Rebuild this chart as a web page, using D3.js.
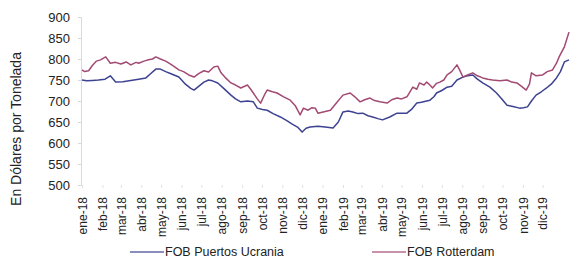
<!DOCTYPE html>
<html>
<head>
<meta charset="utf-8">
<script src="https://cdn.jsdelivr.net/npm/d3@7"></script>
<style>
  body { margin: 0; background: #fff; }
  svg text { font-family: "Liberation Sans", Arial, sans-serif; fill: #222; }
</style>
</head>
<body>
<div id="chart"></div>
<script>
// FOB Puertos Ucrania (USD/t)
const ucraniaDates = [
  '2018-01-01','2018-01-08','2018-01-17','2018-01-26','2018-02-05','2018-02-13','2018-02-21','2018-03-04',
  '2018-03-16','2018-03-28','2018-04-08','2018-04-15','2018-04-23','2018-04-30','2018-05-08','2018-05-16',
  '2018-05-28','2018-06-07','2018-06-15','2018-06-20','2018-06-27','2018-07-05','2018-07-12','2018-07-18',
  '2018-07-26','2018-08-04','2018-08-15','2018-08-22','2018-08-30','2018-09-09','2018-09-18','2018-09-24',
  '2018-10-02','2018-10-09','2018-10-18','2018-10-29','2018-11-09','2018-11-16','2018-11-24','2018-12-01',
  '2018-12-07','2018-12-13','2018-12-25','2019-01-05','2019-01-17','2019-01-25','2019-02-01','2019-02-09',
  '2019-02-16','2019-02-24','2019-03-03','2019-03-11','2019-03-18','2019-03-26','2019-04-02','2019-04-13',
  '2019-04-24','2019-05-01','2019-05-09','2019-05-16','2019-05-24','2019-05-31','2019-06-13','2019-06-19',
  '2019-06-23','2019-07-01','2019-07-09','2019-07-16','2019-07-24','2019-08-02','2019-08-09','2019-08-17',
  '2019-08-24','2019-09-01','2019-09-12','2019-09-22','2019-09-30','2019-10-08','2019-10-17','2019-10-27',
  '2019-11-02','2019-11-08','2019-11-14','2019-11-21','2019-11-29','2019-12-07','2019-12-14','2019-12-22',
  '2019-12-28','2020-01-03','2020-01-10'
];
const ucraniaValues = [
  750, 748, 749, 750, 752, 760, 745, 746,
  749, 752, 755, 765, 776, 776, 770, 765,
  757, 740, 730, 726, 735, 745, 750, 748,
  743, 730, 714, 705, 698, 700, 698, 683,
  680, 678, 670, 662, 652, 645, 638, 626,
  635, 638, 640, 638, 636, 650, 674, 676,
  674, 670, 671, 665, 662, 658, 655, 662,
  671, 671, 671, 680, 695, 697, 702, 710,
  719, 725, 733, 735, 750, 757, 760, 762,
  752, 743, 733, 719, 705, 690, 687, 683,
  684, 686, 700, 714, 722, 731, 740, 755,
  770, 793, 798
];

// FOB Rotterdam (USD/t)
const rotterdamDates = [
  '2018-01-01','2018-01-05','2018-01-11','2018-01-17','2018-01-23','2018-01-29','2018-02-06','2018-02-13',
  '2018-02-21','2018-03-01','2018-03-09','2018-03-16','2018-03-24','2018-03-28','2018-04-05','2018-04-12',
  '2018-04-18','2018-04-23','2018-04-30','2018-05-08','2018-05-13','2018-05-20','2018-05-28','2018-06-04',
  '2018-06-12','2018-06-20','2018-06-27','2018-07-05','2018-07-12','2018-07-20','2018-07-26','2018-07-31',
  '2018-08-07','2018-08-15','2018-08-22','2018-08-30','2018-09-09','2018-09-14','2018-09-18','2018-09-24',
  '2018-09-29','2018-10-05','2018-10-09','2018-10-17','2018-10-24','2018-11-03','2018-11-13','2018-11-21',
  '2018-11-28','2018-12-03','2018-12-10','2018-12-16','2018-12-21','2018-12-25','2019-01-02','2019-01-13',
  '2019-01-22','2019-02-01','2019-02-12','2019-02-19','2019-02-27','2019-03-06','2019-03-14','2019-03-21',
  '2019-03-29','2019-04-09','2019-04-16','2019-04-24','2019-05-01','2019-05-09','2019-05-13','2019-05-18',
  '2019-05-24','2019-05-28','2019-06-04','2019-06-08','2019-06-13','2019-06-17','2019-06-23','2019-06-28',
  '2019-07-04','2019-07-09','2019-07-16','2019-07-24','2019-07-28','2019-08-02','2019-08-09','2019-08-17',
  '2019-08-24','2019-09-01','2019-09-09','2019-09-16','2019-09-27','2019-10-08','2019-10-15','2019-10-23',
  '2019-10-30','2019-11-06','2019-11-11','2019-11-14','2019-11-21','2019-12-01','2019-12-08','2019-12-16',
  '2019-12-22','2019-12-26','2020-01-03','2020-01-10'
];
const rotterdamValues = [
  774, 770, 772, 785, 795, 798, 805, 790,
  792, 788, 793, 786, 792, 790, 795, 798,
  800, 805, 800, 795, 790, 783, 774, 770,
  762, 757, 765, 772, 769, 781, 783, 767,
  755, 743, 738, 731, 738, 728, 719, 705,
  695, 715, 726, 722, 719, 710, 702, 688,
  667, 683, 678, 684, 683, 671, 674, 678,
  695, 714, 719, 710, 698, 703, 707, 701,
  698, 695, 703, 707, 705, 710, 720, 733,
  728, 743, 738, 745, 738, 731, 742, 745,
  750, 762, 770, 786, 774, 757, 762, 767,
  760, 755, 752, 750, 748, 750, 745, 743,
  735, 726, 740, 767, 760, 762, 770, 774,
  790, 805, 829, 864
];

const monthNames = ['ene','feb','mar','abr','may','jun','jul','ago','sep','oct','nov','dic'];
const yTicks = [500, 550, 600, 650, 700, 750, 800, 850, 900];

const seriesNames = ['FOB Puertos Ucrania', 'FOB Rotterdam'];
const seriesColors = ['#3d4291', '#a24a72'];

const W = 571, H = 260;
const margin = {top: 17, right: 1, bottom: 75, left: 81};

const parse = d3.timeParse('%Y-%m-%d');
const series = [
  ucraniaDates.map((d, i) => ({date: parse(d), value: ucraniaValues[i]})),
  rotterdamDates.map((d, i) => ({date: parse(d), value: rotterdamValues[i]}))
];

const svg = d3.select('#chart').append('svg')
  .attr('width', W)
  .attr('height', H);

const x = d3.scaleTime()
  .domain([parse('2018-01-01'), parse('2020-01-10')])
  .range([margin.left + 1, W - margin.right - 1]);

const y = d3.scaleLinear()
  .domain([500, 900])
  .range([H - margin.bottom, margin.top]);

// y axis
const yAxis = svg.append('g')
  .attr('transform', `translate(${margin.left},0)`)
  .call(d3.axisLeft(y).tickValues(yTicks).tickSize(3).tickPadding(8));
yAxis.select('.domain').attr('stroke', '#d9d9d9');
yAxis.selectAll('.tick line').attr('stroke', '#d9d9d9');
yAxis.selectAll('text').style('font-size', '13px').attr('fill', '#333');

// x axis: month ticks, rotated labels
const months = d3.timeMonth.range(parse('2018-01-01'), parse('2020-01-01'));
const xAxis = svg.append('g')
  .attr('transform', `translate(0,${H - margin.bottom})`)
  .call(d3.axisBottom(x).tickValues(months).tickSize(3).tickPadding(5)
    .tickFormat(d => monthNames[d.getMonth()] + '-' + String(d.getFullYear()).slice(2)));
xAxis.select('.domain').remove();
xAxis.selectAll('.tick line').attr('stroke', '#e0e0e0');
xAxis.selectAll('text')
  .style('font-size', '12px')
  .attr('fill', '#333')
  .attr('text-anchor', 'end')
  .attr('dy', '0.35em')
  .attr('transform', 'translate(0,-3) rotate(-90)')
  .attr('x', -15)
  .attr('y', 0);

// y title
svg.append('text')
  .attr('transform', `translate(21,${(H - margin.bottom + margin.top) / 2 + 28}) rotate(-90)`)
  .attr('text-anchor', 'middle')
  .style('font-size', '14px')
  .text('En Dólares por Tonelada');

// lines
const line = d3.line()
  .x(d => x(d.date))
  .y(d => y(d.value));

svg.append('g')
  .selectAll('path')
  .data(series)
  .enter()
  .append('path')
  .attr('d', line)
  .attr('fill', 'none')
  .attr('stroke', (d, i) => seriesColors[i])
  .attr('stroke-width', 1.5)
  .attr('stroke-linejoin', 'round');

// legend
const legendX = [130, 372];
const legend = svg.append('g')
  .selectAll('g')
  .data(seriesNames)
  .enter()
  .append('g')
  .attr('transform', (d, i) => `translate(${legendX[i]},252)`);

legend.append('line')
  .attr('x1', 0).attr('x2', 34)
  .attr('stroke', (d, i) => seriesColors[i])
  .attr('stroke-opacity', 0.6)
  .attr('stroke-width', 2);

legend.append('text')
  .attr('x', 35)
  .attr('dy', '0.35em')
  .style('font-size', '12.5px')
  .text(d => d);
</script>
</body>
</html>
